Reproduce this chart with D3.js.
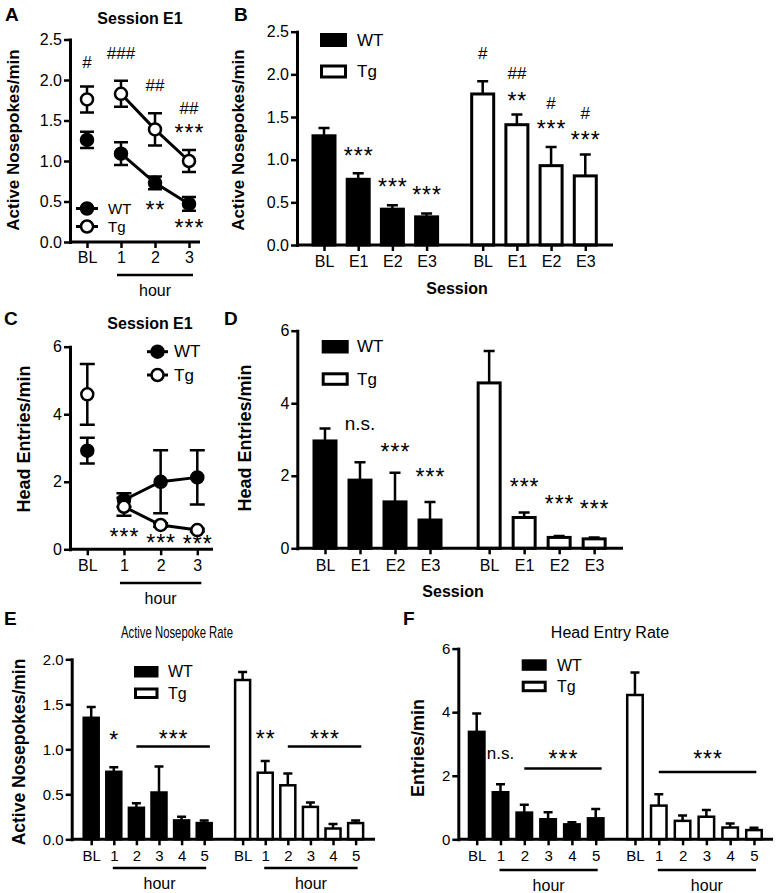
<!DOCTYPE html>
<html><head><meta charset="utf-8">
<script src="https://cdn.jsdelivr.net/npm/d3@7"></script>
<style>body{margin:0;background:#fff}svg{display:block;background:#fff}</style>
</head><body><svg id="c" width="777" height="893"></svg>
<script>
// ---------------- DATA ----------------
// Panel A: Session E1 active nosepokes (scatter)
const aCats = ["BL","1","2","3"];
const aWT = [1.26, 1.09, 0.73, 0.47];
const aWTErr = [0.10, 0.14, 0.08, 0.085];
const aTg = [1.76, 1.83, 1.39, 1.00];
const aTgErr = [0.16, 0.16, 0.20, 0.135];
const aNotes = [
  {c:"BL", v:2.22, t:"#"}, {c:"1", v:2.33, t:"###"}, {c:"2", v:1.94, t:"##"},
  {c:"3", v:1.65, t:"##"}, {c:"3", v:1.41, t:"***"}, {c:"2", v:0.46, t:"**"}, {c:"3", v:0.24, t:"***"}
];
// Panel B: active nosepokes by session (bars)
const bCats = ["BL","E1","E2","E3"];
const bWT = [1.28, 0.77, 0.42, 0.33];
const bWTErr = [0.09, 0.07, 0.045, 0.04];
const bTg = [1.77, 1.41, 0.93, 0.81];
const bTgErr = [0.15, 0.12, 0.22, 0.25];
const bNotes = [
  {g:"WT", i:1, v:1.11, t:"***"}, {g:"WT", i:2, v:0.74, t:"***"}, {g:"WT", i:3, v:0.645, t:"***"},
  {g:"Tg", i:0, v:2.25, t:"#"}, {g:"Tg", i:1, v:2.02, t:"##"}, {g:"Tg", i:1, v:1.75, t:"**"},
  {g:"Tg", i:2, v:1.66, t:"#"}, {g:"Tg", i:2, v:1.42, t:"***"},
  {g:"Tg", i:3, v:1.55, t:"#"}, {g:"Tg", i:3, v:1.30, t:"***"}
];
// Panel C: Session E1 head entries (scatter)
const cCats = ["BL","1","2","3"];
const cWT = [2.92, 1.46, 2.00, 2.13];
const cWTErr = [0.38, 0.20, 0.93, 0.80];
const cTg = [4.59, 1.26, 0.72, 0.57];
const cTgErr = [0.90, 0.27, 0.05, 0.04];
const cNotes = [{c:"1", v:0.52, t:"***"}, {c:"2", v:0.34, t:"***"}, {c:"3", v:0.33, t:"***"}];
// Panel D: head entries by session (bars)
const dCats = ["BL","E1","E2","E3"];
const dWT = [2.96, 1.88, 1.28, 0.78];
const dWTErr = [0.34, 0.49, 0.80, 0.50];
const dTg = [4.56, 0.85, 0.30, 0.26];
const dTgErr = [0.88, 0.14, 0.04, 0.04];
const dNotes = [
  {g:"WT", i:1, v:3.40, t:"n.s."}, {g:"WT", i:2, v:2.80, t:"***"}, {g:"WT", i:3, v:2.11, t:"***"},
  {g:"Tg", i:1, v:1.83, t:"***"}, {g:"Tg", i:2, v:1.38, t:"***"}, {g:"Tg", i:3, v:1.24, t:"***"}
];
// Panel E: active nosepoke rate by hour
const eCats = ["BL","1","2","3","4","5"];
const eWT = [1.35, 0.75, 0.35, 0.52, 0.21, 0.18];
const eWTErr = [0.12, 0.05, 0.05, 0.29, 0.04, 0.03];
const eTg = [1.77, 0.74, 0.60, 0.36, 0.12, 0.18];
const eTgErr = [0.09, 0.13, 0.13, 0.05, 0.05, 0.03];
const eNotes = [{g:"WT", i:1, v:1.16, t:"*"}, {g:"Tg", i:1, v:1.18, t:"**"}];
const eBrackets = [{g:"WT", from:2, to:5.25, v:1.03, tv:1.18, t:"***"}, {g:"Tg", from:2, to:5.25, v:1.03, tv:1.18, t:"***"}];
// Panel F: head entry rate by hour
const fCats = ["BL","1","2","3","4","5"];
const fWT = [3.38, 1.48, 0.84, 0.63, 0.47, 0.66];
const fWTErr = [0.58, 0.25, 0.25, 0.22, 0.07, 0.29];
const fTg = [4.54, 1.06, 0.58, 0.71, 0.37, 0.29];
const fTgErr = [0.71, 0.36, 0.17, 0.21, 0.13, 0.07];
const fNotes = [{g:"WT", i:1, v:2.65, t:"n.s."}];
const fBrackets = [{g:"WT", from:2, to:5.25, v:2.23, tv:2.70, t:"***"}, {g:"Tg", from:1, to:5.1, v:2.12, tv:2.70, t:"***"}];

// ---------------- DRAWING ----------------
const FONT = '"Liberation Sans", Arial, Helvetica, sans-serif';
const svg = d3.select("#c");
svg.append("rect").attr("width",777).attr("height",893).attr("fill","#fff");

function txt(g, x, y, t, fs, opts={}) {
  const e = g.append("text").attr("x", x).attr("y", y).text(t)
    .attr("font-family", FONT).attr("font-size", fs).attr("fill", "#000")
    .attr("text-anchor", opts.anchor || "middle")
    .attr("font-weight", opts.bold ? "bold" : "normal");
  if (opts.central) e.attr("dominant-baseline", "central");
  if (opts.len) e.attr("textLength", opts.len).attr("lengthAdjust", "spacingAndGlyphs");
  return e;
}
function note(g, x, yc, t, fs) {
  const star = /^\*+$/.test(t);
  const size = star ? 23 : fs;
  const k = star ? 0.585 : (t[0] === "#" ? 0.345 : 0.26);
  const ls = star ? 1 : 0;
  g.append("text").attr("x", x + ls / 2).attr("y", yc + k * size).text(t)
    .attr("font-family", FONT).attr("font-size", size).attr("text-anchor", "middle")
    .attr("letter-spacing", ls).attr("fill", "#000");
}
function yLabel(g, xc, yc, t, fs) {
  g.append("text").attr("transform", `translate(${xc},${yc}) rotate(-90)`).text(t)
    .attr("font-family", FONT).attr("font-size", fs).attr("font-weight", "bold")
    .attr("text-anchor", "middle").attr("dominant-baseline", "central").attr("fill", "#000");
}
function yAxis(g, y, x0, ticks, fmt, fs) {
  const a = g.append("g").attr("transform", `translate(${x0},0)`)
    .call(d3.axisLeft(y).tickValues(ticks).tickFormat(fmt).tickSize(6).tickSizeOuter(0).tickPadding(2));
  a.select(".domain").attr("stroke", "#000").attr("stroke-width", 3).attr("stroke-linecap", "square");
  a.selectAll(".tick line").attr("stroke", "#000").attr("stroke-width", 2.5);
  a.selectAll(".tick text").attr("font-family", FONT).attr("font-size", fs).attr("fill", "#000");
}
function styleX(a, fs) {
  a.select(".domain").remove();
  a.selectAll(".tick line").attr("stroke", "#000").attr("stroke-width", 2.5);
  a.selectAll(".tick text").attr("font-family", FONT).attr("font-size", fs).attr("fill", "#000");
}
function hLine(g, x1, x2, y, w) {
  g.append("line").attr("x1", x1).attr("x2", x2).attr("y1", y).attr("y2", y)
    .attr("stroke", "#000").attr("stroke-width", w);
}

function scatterPanel(o) {
  const g = svg.append("g");
  const y = d3.scaleLinear().domain(o.domain).range(o.yRange);
  const x = d3.scalePoint().domain(o.cats).range(o.xRange);
  yAxis(g, y, o.axisX, o.ticks, o.fmt, 16);
  hLine(g, o.axisX, o.xEnd, y(0), 3);
  const xa = g.append("g").attr("transform", `translate(0,${y(0)})`)
    .call(d3.axisBottom(x).tickSize(6).tickSizeOuter(0).tickPadding(o.pad));
  styleX(xa, 16);
  const series = [
    {v:o.wt, e:o.wtErr, fill:"#000"},
    {v:o.tg, e:o.tgErr, fill:"#fff"}
  ].map(s => ({fill:s.fill, pts:o.cats.map((c,i)=>({c, v:s.v[i], e:s.e[i]}))}));
  const cap = o.cap / 2;
  series.forEach(s => {
    g.append("g").selectAll("path").data(s.pts).join("path")
      .attr("d", d => { const cx = x(d.c), t = y(d.v + d.e), b = y(d.v - d.e);
        return `M${cx},${t}V${b}M${cx-cap},${t}H${cx+cap}M${cx-cap},${b}H${cx+cap}`; })
      .attr("stroke", "#000").attr("stroke-width", 2.5).attr("fill", "none");
  });
  series.forEach(s => {
    g.append("path").datum(s.pts.slice(1))
      .attr("d", d3.line().x(d => x(d.c)).y(d => y(d.v)))
      .attr("stroke", "#000").attr("stroke-width", 3).attr("fill", "none");
  });
  series.forEach(s => {
    g.append("g").selectAll("circle").data(s.pts).join("circle")
      .attr("cx", d => x(d.c)).attr("cy", d => y(d.v)).attr("r", 6)
      .attr("fill", s.fill).attr("stroke", "#000").attr("stroke-width", 2.5);
  });
  o.notes.forEach(n => note(g, x(n.c), y(n.v), n.t, 17));
  const h1 = x(o.cats[1]) - 4, h2 = x(o.cats[o.cats.length-1]) + 4;
  hLine(g, h1, h2, o.hourY, 2.5);
  txt(g, (h1 + h2) / 2, o.hourY + 15, "hour", 16, {central:true});
  o.legend.rows.forEach((r, i) => {
    const ly = o.legend.ys[i];
    hLine(g, o.legend.x1, o.legend.x2, ly, 3);
    g.append("circle").attr("cx", (o.legend.x1 + o.legend.x2) / 2).attr("cy", ly).attr("r", 6)
      .attr("fill", i === 0 ? "#000" : "#fff").attr("stroke", "#000").attr("stroke-width", 2.5);
    txt(g, o.legend.tx, ly, r, o.legend.fs, {anchor:"start", central:true});
  });
  txt(g, o.title.x, o.title.y, "Session E1", 16, {bold:true, central:true});
  yLabel(g, o.ylab.x, o.ylab.y, o.ylab.t, o.ylab.fs);
  txt(g, o.letter.x, o.letter.y, o.letter.t, 19, {bold:true, anchor:"start"});
}

function barPanel(o) {
  const g = svg.append("g");
  const y = d3.scaleLinear().domain(o.domain).range(o.yRange);
  const xs = d3.scaleLinear().domain([0, 1]).range([o.first, o.first + o.step]);
  const off = {WT:0, Tg:o.gap};
  const rows = [];
  o.cats.forEach((c, i) => rows.push({g:"WT", c, slot:i, v:o.wt[i], e:o.wtErr[i]}));
  o.cats.forEach((c, i) => rows.push({g:"Tg", c, slot:i + o.gap, v:o.tg[i], e:o.tgErr[i]}));
  yAxis(g, y, o.axisX, o.ticks, o.fmt, o.fs);
  const cap = o.cap / 2;
  g.append("g").selectAll("path").data(rows).join("path")
    .attr("d", d => { const cx = xs(d.slot), t = y(d.v + d.e);
      return `M${cx},${y(d.v)}V${t}M${cx-cap},${t}H${cx+cap}`; })
    .attr("stroke", "#000").attr("stroke-width", 2.5).attr("fill", "none");
  g.append("g").selectAll("rect").data(rows).join("rect")
    .attr("x", d => xs(d.slot) - o.barW / 2).attr("width", o.barW)
    .attr("y", d => y(d.v)).attr("height", d => y(0) - y(d.v))
    .attr("fill", d => d.g === "WT" ? "#000" : "#fff")
    .attr("stroke", "#000").attr("stroke-width", o.sw);
  hLine(g, o.axisX, o.xEnd, y(0), 3);
  const xa = g.append("g").attr("transform", `translate(0,${y(0)})`)
    .call(d3.axisBottom(xs).tickValues(rows.map(r => r.slot)).tickFormat((d, i) => rows[i].c)
      .tickSize(6).tickSizeOuter(0).tickPadding(o.pad));
  styleX(xa, o.fs);
  o.notes.forEach(n => note(g, xs(n.i + off[n.g]), y(n.v), n.t, o.noteFs));
  (o.brackets || []).forEach(b => {
    const x1 = xs(b.from + off[b.g]), x2 = xs(b.to + off[b.g]);
    hLine(g, x1, x2, y(b.v), 2.5);
    note(g, (x1 + x2) / 2, y(b.tv), b.t, 17);
  });
  if (o.hourY) {
    ["WT", "Tg"].forEach(k => {
      const x1 = xs(1 + off[k]) - 1, x2 = xs(o.cats.length - 1 + off[k]) + 2;
      hLine(g, x1, x2, o.hourY, 2.5);
      txt(g, (x1 + x2) / 2, o.hourY + 15, "hour", 16, {central:true});
    });
  }
  if (o.session) txt(g, o.session.x, o.session.y, "Session", 16, {bold:true, central:true});
  ["WT", "Tg"].forEach((k, i) => {
    const L = o.legend;
    g.append("rect").attr("x", L.x + 1.5).attr("y", L.ys[i] + 1.5).attr("width", L.w - 3).attr("height", L.h - 3)
      .attr("fill", i === 0 ? "#000" : "#fff").attr("stroke", "#000").attr("stroke-width", 3);
    txt(g, L.tx, L.ys[i] + L.h / 2, k, L.fs, {anchor:"start", central:true});
  });
  if (o.title) txt(g, o.title.x, o.title.y, o.title.t, o.title.fs || 16, {central:true, len:o.title.len});
  yLabel(g, o.ylab.x, o.ylab.y, o.ylab.t, o.ylab.fs);
  txt(g, o.letter.x, o.letter.y, o.letter.t, 19, {bold:true, anchor:"start"});
}

const f1 = d3.format(".1f"), f0 = d3.format("d");

scatterPanel({cats:aCats, wt:aWT, wtErr:aWTErr, tg:aTg, tgErr:aTgErr, notes:aNotes,
  domain:[0,2.5], yRange:[242,39.5], ticks:[0,0.5,1,1.5,2,2.5], fmt:f1,
  axisX:70, xEnd:200, xRange:[87,189], pad:4, cap:14, hourY:275,
  legend:{rows:["WT","Tg"], ys:[208.5,226.5], x1:76, x2:98, tx:108, fs:15},
  title:{x:140, y:18}, ylab:{x:13, y:140, t:"Active Nosepokes/min", fs:17},
  letter:{x:5, y:21, t:"A"}});

barPanel({cats:bCats, wt:bWT, wtErr:bWTErr, tg:bTg, tgErr:bTgErr, notes:bNotes,
  domain:[0,2.5], yRange:[245,31.7], ticks:[0,0.5,1,1.5,2,2.5], fmt:f1, fs:16,
  axisX:297, xEnd:613, first:324, step:34.2, gap:4.64, barW:22, sw:3, cap:11, pad:5, noteFs:17,
  session:{x:457, y:288},
  legend:{x:320, ys:[33,64.5], w:27, h:14, tx:357, fs:17},
  ylab:{x:238, y:140, t:"Active Nosepokes/min", fs:17}, letter:{x:234, y:21, t:"B"}});

scatterPanel({cats:cCats, wt:cWT, wtErr:cWTErr, tg:cTg, tgErr:cTgErr, notes:cNotes,
  domain:[0,6], yRange:[549.3,346.7], ticks:[0,2,4,6], fmt:f0,
  axisX:70, xEnd:213, xRange:[87.3,197.3], pad:4, cap:15, hourY:583,
  legend:{rows:["WT","Tg"], ys:[351.7,375], x1:147, x2:168, tx:174, fs:17},
  title:{x:150, y:323}, ylab:{x:24, y:439, t:"Head Entries/min", fs:18},
  letter:{x:4, y:325, t:"C"}});

barPanel({cats:dCats, wt:dWT, wtErr:dWTErr, tg:dTg, tgErr:dTgErr, notes:dNotes,
  domain:[0,6], yRange:[548.3,330.7], ticks:[0,2,4,6], fmt:f0, fs:16,
  axisX:297.3, xEnd:623, first:325, step:35, gap:4.69, barW:22, sw:3, cap:11, pad:5, noteFs:19,
  session:{x:453, y:591},
  legend:{x:321.7, ys:[340,372.3], w:27, h:13.5, tx:357, fs:17},
  ylab:{x:245, y:438, t:"Head Entries/min", fs:18}, letter:{x:224, y:325, t:"D"}});

barPanel({cats:eCats, wt:eWT, wtErr:eWTErr, tg:eTg, tgErr:eTgErr, notes:eNotes, brackets:eBrackets,
  domain:[0,2], yRange:[839.3,659.3], ticks:[0,0.5,1,1.5,2], fmt:f1, fs:15,
  axisX:71.7, xEnd:375, first:91.2, step:22.6, gap:6.7, barW:15, sw:2.5, cap:9, pad:5, noteFs:17,
  hourY:868,
  legend:{x:134, ys:[666,687.5], w:24.5, h:11.5, tx:168, fs:16},
  title:{x:177, y:632, t:"Active Nosepoke Rate", len:112, fs:17},
  ylab:{x:19, y:752, t:"Active Nosepokes/min", fs:17.5}, letter:{x:4, y:625, t:"E"}});

barPanel({cats:fCats, wt:fWT, wtErr:fWTErr, tg:fTg, tgErr:fTgErr, notes:fNotes, brackets:fBrackets,
  domain:[0,6], yRange:[839.3,648.6], ticks:[0,2,4,6], fmt:f0, fs:15,
  axisX:458.3, xEnd:773, first:476.7, step:23.8, gap:6.65, barW:15.5, sw:2.5, cap:9, pad:5, noteFs:17,
  hourY:870,
  legend:{x:521.7, ys:[659.3,680.7], w:25, h:11.5, tx:557, fs:16},
  title:{x:610, y:632, t:"Head Entry Rate"},
  ylab:{x:418, y:748, t:"Entries/min", fs:18}, letter:{x:403, y:625, t:"F"}});
</script></body></html>
